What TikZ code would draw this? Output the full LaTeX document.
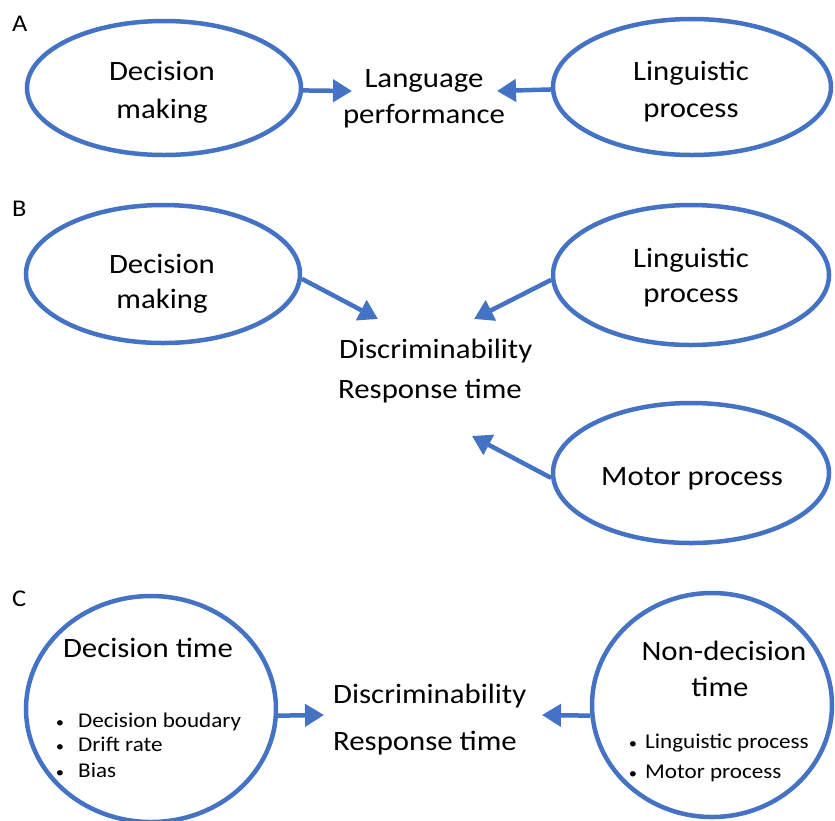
\documentclass[tikz,border=0pt]{standalone}
\usepackage{fontspec}
\setmainfont{Carlito}[FakeStretch=1.1]
\usetikzlibrary{shapes.geometric,arrows.meta}
\definecolor{ublue}{HTML}{4472C4}
\begin{document}
\begin{tikzpicture}[x=1pt,y=-1pt,
  oval/.style={ellipse, draw=ublue, line width=4.5pt, inner sep=0pt},
  bigtext/.style={font=\fontsize{28}{34}\selectfont, anchor=base, inner sep=0pt},
  bigleft/.style={bigtext, anchor=base west},
  smalltext/.style={font=\fontsize{21}{25}\selectfont, anchor=base west, inner sep=0pt},
  bul/.style={font=\fontsize{15}{18}\selectfont, anchor=base, inner sep=0pt},
  lab/.style={font=\fontsize{24}{28}\selectfont, anchor=base west, inner sep=0pt},
  arr/.style={draw=ublue, line width=4.5pt, -{Triangle[length=19pt,width=22pt]}},
]
\useasboundingbox (0,0) rectangle (835,820);

% ---------------- A ----------------
\node[lab] (labA) at (12,31) {A};
\node[oval, minimum width=274pt, minimum height=134pt] (dmA) at (164,88) {};
\node[oval, minimum width=278pt, minimum height=136pt] (lpA) at (692,87) {};
\node[bigtext] (dmA1) at (162,80) {Decision};
\node[bigtext] (dmA2) at (162,118) {making};
\node[bigtext] (lpA1) at (691,80) {Linguistic};
\node[bigtext] (lpA2) at (691,117) {process};
\node[bigtext] (lgA1) at (424,87) {Language};
\node[bigtext] (lgA2) at (424,123) {performance};
\coordinate (tA1) at (352,91);
\coordinate (tA2) at (497,91);
\draw[arr] (dmA.-1.5) -- (tA1);
\draw[arr] (lpA.181.5) -- (tA2);

% ---------------- B ----------------
\node[lab] (labB) at (12,216) {B};
\node[oval, minimum width=274pt, minimum height=138pt] (dmB) at (163,274) {};
\node[oval, minimum width=276pt, minimum height=140pt] (lpB) at (691,275) {};
\node[oval, minimum width=276pt, minimum height=140pt] (mpB) at (691,473) {};
\node[bigtext] (dmB1) at (162,273) {Decision};
\node[bigtext] (dmB2) at (162,308) {making};
\node[bigtext] (lpB1) at (691,267) {Linguistic};
\node[bigtext] (lpB2) at (691,302) {process};
\node[bigtext] (mpB1) at (692,485) {Motor process};
\node[bigleft] (dsB1) at (339,358) {Discriminability};
\node[bigleft] (dsB2) at (338,398) {Response time};
\coordinate (tB1) at (378,319);
\coordinate (tB2) at (474,319);
\coordinate (tB3) at (472,436);
\draw[arr] (dmB.-2.5) -- (tB1);
\draw[arr] (lpB.182) -- (tB2);
\draw[arr] (mpB.182) -- (tB3);

% ---------------- C ----------------
\node[lab] (labC) at (12,606) {C};
\node[oval, minimum width=250pt, minimum height=226pt] (dtC) at (151,709) {};
\node[oval, minimum width=240pt, minimum height=224pt] (ndC) at (712,705) {};
\node[bigtext] (dtC1) at (148,657) {Decision time};
\node[bul] (dtb1) at (60,727) {•};
\node[smalltext] (dtC2) at (78,727) {Decision boudary};
\node[bul] (dtb2) at (60,751) {•};
\node[smalltext] (dtC3) at (78,751) {Drift rate};
\node[bul] (dtb3) at (60,777) {•};
\node[smalltext] (dtC4) at (78,777) {Bias};
\node[bigtext] (ndC1) at (724,660) {Non-decision};
\node[bigtext] (ndC2) at (720,696) {time};
\node[bul] (ndb1) at (633,748) {•};
\node[smalltext] (ndC3) at (645,748) {Linguistic process};
\node[bul] (ndb2) at (633,778) {•};
\node[smalltext] (ndC4) at (645,778) {Motor process};
\node[bigleft] (dsC1) at (333,703) {Discriminability};
\node[bigleft] (dsC2) at (333,750) {Response time};
\coordinate (tC1) at (324,715);
\coordinate (tC2) at (542,715);
\draw[arr] (dtC.-3) -- (tC1);
\draw[arr] (ndC.185) -- (tC2);
\end{tikzpicture}
\end{document}
